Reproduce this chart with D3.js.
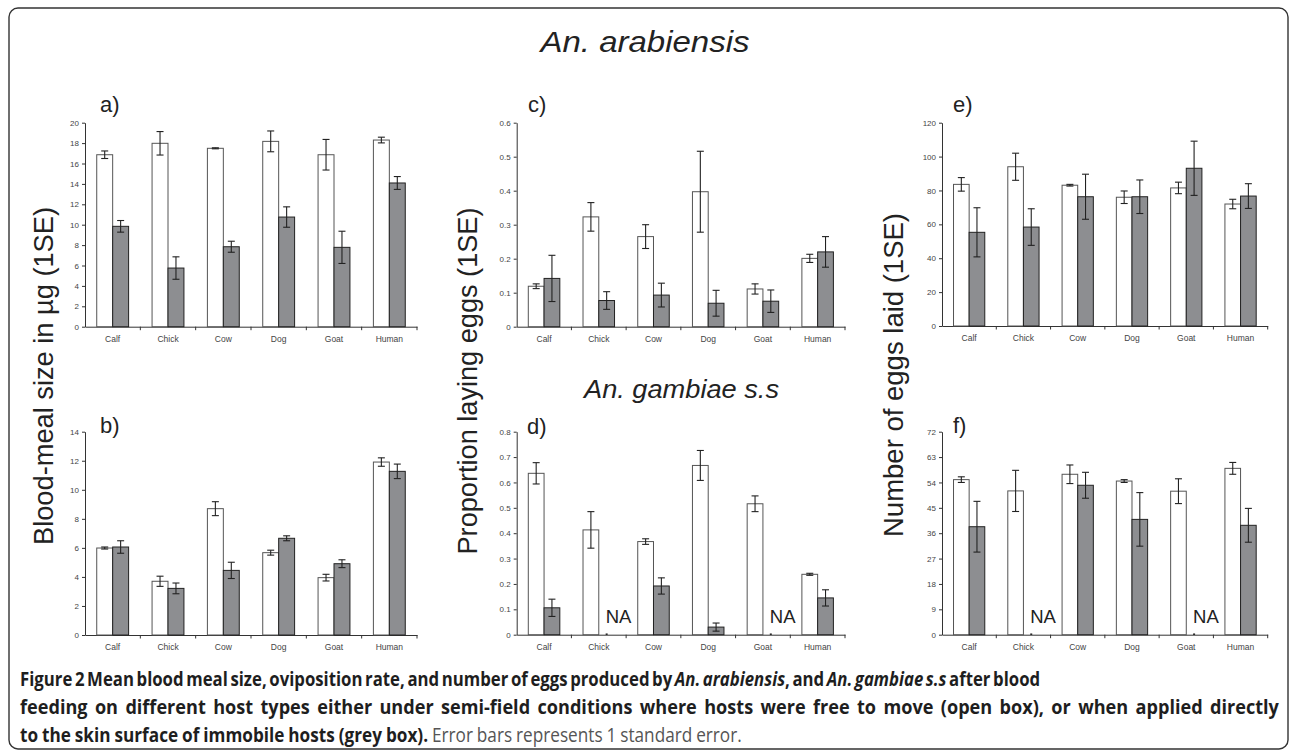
<!DOCTYPE html>
<html><head><meta charset="utf-8">
<script src="https://cdn.jsdelivr.net/npm/d3@7"></script>
<style>body{margin:0;background:#fff}svg{display:block}</style>
</head><body>
<svg id="c" width="1290" height="752"></svg>
<script>
// ---------- DATA ----------
const categories = ["Calf","Chick","Cow","Dog","Goat","Human"];
// a) An. arabiensis, blood-meal size (µg)
const aOpen   = [16.86, 17.98, 17.49, 18.17, 16.86, 18.3];
const aOpenSE = [0.37, 1.15, 0.05, 1.02, 1.5, 0.28];
const aGrey   = [9.84, 5.75, 7.84, 10.75, 7.78, 14.09];
const aGreySE = [0.57, 1.1, 0.54, 1.0, 1.58, 0.63];
// b) An. gambiae s.s, blood-meal size
const bOpen   = [5.99, 3.7, 8.7, 5.67, 3.95, 11.91];
const bOpenSE = [0.07, 0.35, 0.48, 0.17, 0.23, 0.29];
const bGrey   = [6.06, 3.21, 4.45, 6.66, 4.91, 11.27];
const bGreySE = [0.43, 0.37, 0.56, 0.17, 0.27, 0.5];
// c) An. arabiensis, proportion laying eggs
const cOpen   = [0.119, 0.323, 0.265, 0.397, 0.111, 0.201];
const cOpenSE = [0.007, 0.042, 0.035, 0.119, 0.015, 0.012];
const cGrey   = [0.142, 0.077, 0.093, 0.069, 0.075, 0.22];
const cGreySE = [0.068, 0.026, 0.035, 0.038, 0.033, 0.045];
// d) An. gambiae s.s, proportion laying eggs (null = NA)
const dOpen   = [0.636, 0.413, 0.367, 0.667, 0.516, 0.238];
const dOpenSE = [0.042, 0.072, 0.011, 0.059, 0.031, 0.004];
const dGrey   = [0.106, null, 0.192, 0.03, null, 0.145];
const dGreySE = [0.034, null, 0.032, 0.016, null, 0.032];
// e) An. arabiensis, number of eggs laid
const eOpen   = [83.6, 94.0, 83.1, 76.0, 81.5, 72.0];
const eOpenSE = [4.0, 8.0, 0.5, 3.7, 3.4, 2.8];
const eGrey   = [55.3, 58.4, 76.3, 76.3, 93.1, 76.7];
const eGreySE = [14.5, 10.8, 13.3, 9.9, 16.0, 7.3];
// f) An. gambiae s.s, number of eggs laid (null = NA)
const fOpen   = [55.0, 51.0, 56.9, 54.5, 50.9, 59.0];
const fOpenSE = [1.0, 7.3, 3.3, 0.5, 4.4, 2.1];
const fGrey   = [38.3, null, 53.0, 40.9, null, 38.8];
const fGreySE = [9.0, null, 4.6, 9.5, null, 6.0];

const yTicksA = [0,2,4,6,8,10,12,14,16,18,20];
const yTicksB = [0,2,4,6,8,10,12,14];
const yTicksC = [0,0.1,0.2,0.3,0.4,0.5,0.6];
const yTicksD = [0,0.1,0.2,0.3,0.4,0.5,0.6,0.7,0.8];
const yTicksE = [0,20,40,60,80,100,120];
const yTicksF = [0,9,18,27,36,45,54,63,72];

const panelLetters = ["a)","b)","c)","d)","e)","f)"];
const yTitles = ["Blood-meal size in µg (1SE)","Proportion laying eggs (1SE)","Number of eggs laid (1SE)"];
const speciesTitles = ["An. arabiensis","An. gambiae s.s"];

// ---------- LAYOUT ----------
const svg = d3.select("#c");
const FONT = "'Liberation Sans', Arial, Helvetica, sans-serif";
const GREY = "#8d8e91";

svg.append("rect").attr("x",9).attr("y",8).attr("width",1279).attr("height",741)
  .attr("rx",9).attr("fill","none").attr("stroke","#333").attr("stroke-width",1.4);

const panels = [
  {open:aOpen, openSE:aOpenSE, grey:aGrey, greySE:aGreySE, ticks:yTicksA, fmt:d3.format("d"), x0:85, x1:417, yTop:122.7, yBot:326.7, lx:100, ly:112},
  {open:bOpen, openSE:bOpenSE, grey:bGrey, greySE:bGreySE, ticks:yTicksB, fmt:d3.format("d"), x0:85, x1:417, yTop:431.7, yBot:635, lx:100, ly:433},
  {open:cOpen, openSE:cOpenSE, grey:cGrey, greySE:cGreySE, ticks:yTicksC, fmt:d=>d===0?"0":d3.format(".1f")(d), x0:516.7, x1:845, yTop:122.7, yBot:326.7, lx:528, ly:112},
  {open:dOpen, openSE:dOpenSE, grey:dGrey, greySE:dGreySE, ticks:yTicksD, fmt:d=>d===0?"0":d3.format(".1f")(d), x0:516.7, x1:845, yTop:431.7, yBot:634.7, lx:527, ly:434},
  {open:eOpen, openSE:eOpenSE, grey:eGrey, greySE:eGreySE, ticks:yTicksE, fmt:d3.format("d"), x0:942, x1:1267.7, yTop:122.7, yBot:326, lx:953, ly:112},
  {open:fOpen, openSE:fOpenSE, grey:fGrey, greySE:fGreySE, ticks:yTicksF, fmt:d3.format("d"), x0:942, x1:1267.7, yTop:431.7, yBot:634.7, lx:953, ly:433}
];

panels.forEach((p,pi)=>{
  const g = svg.append("g");
  const x = d3.scaleBand().domain(categories).range([p.x0,p.x1]).paddingInner(0).paddingOuter(0);
  const bw = x.bandwidth();
  const xs = d3.scaleBand().domain(["open","grey"]).range([bw*0.212, bw*0.788]).padding(0);
  const y = d3.scaleLinear().domain([0, p.ticks[p.ticks.length-1]]).range([p.yBot,p.yTop]);

  const ya = g.append("g").attr("transform",`translate(${p.x0},0)`)
    .call(d3.axisLeft(y).tickValues(p.ticks).tickFormat(p.fmt).tickSize(3).tickSizeOuter(0).tickPadding(3));
  ya.select(".domain").attr("stroke","#333").attr("stroke-width",1);
  ya.selectAll(".tick line").attr("stroke","#333");
  ya.selectAll("text").attr("font-family",FONT).attr("font-size",8).attr("fill","#444");

  const xa = g.append("g").attr("transform",`translate(0,${p.yBot})`)
    .call(d3.axisBottom(x).tickSize(0).tickPadding(9).tickSizeOuter(0));
  xa.select(".domain").attr("stroke","#333").attr("stroke-width",1);
  xa.selectAll("text").attr("font-family",FONT).attr("font-size",8.5).attr("fill","#444");
  const bounds = categories.map(c=>x(c)).concat([p.x1]).slice(1);
  g.selectAll(".bt").data(bounds).join("line")
    .attr("x1",d=>d).attr("x2",d=>d).attr("y1",p.yBot).attr("y2",p.yBot+3.5)
    .attr("stroke","#333");

  const series = [
    {key:"open", vals:p.open, se:p.openSE, fill:"#fff", stroke:"#555"},
    {key:"grey", vals:p.grey, se:p.greySE, fill:GREY, stroke:"#222"}
  ];
  series.forEach(s=>{
    categories.forEach((c,i)=>{
      const v = s.vals[i];
      const bx = x(c)+xs(s.key);
      if (v===null){
        g.append("line").attr("x1",bx+xs.bandwidth()/2-1).attr("x2",bx+xs.bandwidth()/2+1)
          .attr("y1",p.yBot-0.5).attr("y2",p.yBot-0.5).attr("stroke","#222").attr("stroke-width",1.5);
        g.append("text").attr("x",bx+xs.bandwidth()/2-1).attr("y",p.yBot-11.5)
          .attr("font-family",FONT).attr("font-size",18.5).attr("fill","#222").text("NA");
        return;
      }
      g.append("rect").attr("x",bx).attr("y",y(v)).attr("width",xs.bandwidth()).attr("height",p.yBot-y(v))
        .attr("fill",s.fill).attr("stroke",s.stroke).attr("stroke-width",1);
      const se = s.se[i];
      const cx = bx+xs.bandwidth()/2;
      const eg = g.append("g").attr("stroke","#222").attr("stroke-width",1.1);
      eg.append("line").attr("x1",cx).attr("x2",cx).attr("y1",y(v+se)).attr("y2",y(v-se));
      eg.append("line").attr("x1",cx-3.5).attr("x2",cx+3.5).attr("y1",y(v+se)).attr("y2",y(v+se));
      eg.append("line").attr("x1",cx-3.5).attr("x2",cx+3.5).attr("y1",y(v-se)).attr("y2",y(v-se));
    });
  });

  svg.append("text").attr("x",p.lx).attr("y",p.ly).attr("font-family",FONT)
    .attr("font-size",22).attr("fill","#222").text(panelLetters[pi]);
});

const yTitlePos = [{x:53, y:376, len:338},{x:477, y:381, len:347},{x:903, y:375, len:324}];
yTitles.forEach((t,i)=>{
  const pos = yTitlePos[i];
  svg.append("text").attr("transform",`translate(${pos.x},${pos.y}) rotate(-90)`)
    .attr("text-anchor","middle").attr("font-family",FONT).attr("font-size",27.5)
    .attr("fill","#222").attr("textLength",pos.len).attr("lengthAdjust","spacingAndGlyphs").text(t);
});

svg.append("text").attr("x",645).attr("y",52).attr("text-anchor","middle")
  .attr("font-family",FONT).attr("font-style","italic").attr("font-size",29).attr("fill","#222")
  .attr("textLength",209).attr("lengthAdjust","spacingAndGlyphs").text(speciesTitles[0]);
svg.append("text").attr("x",681.5).attr("y",398).attr("text-anchor","middle")
  .attr("font-family",FONT).attr("font-style","italic").attr("font-size",26).attr("fill","#222")
  .attr("textLength",195).attr("lengthAdjust","spacingAndGlyphs").text(speciesTitles[1]);

// ---------- CAPTION ----------
const CAPFONT = "'Open Sans','Noto Sans',sans-serif";
const captionLines = [
  {y:686, w:1021, parts:[
    {t:"Figure 2 Mean blood meal size, oviposition rate, and number of eggs produced by ", b:1},
    {t:"An. arabiensis", b:1, i:1},
    {t:", and ", b:1},
    {t:"An. gambiae s.s", b:1, i:1},
    {t:" after blood", b:1}]},
  {y:714, w:1260, parts:[
    {t:"feeding on different host types either under semi-field conditions where hosts were free to move (open box), or when applied directly", b:1}]},
  {y:742, w:722, parts:[
    {t:"to the skin surface of immobile hosts (grey box).", b:1},
    {t:" Error bars represents 1 standard error.", c:"#555"}]}
];
const caps = captionLines.map(L=>{
  const tx = svg.append("text").attr("font-family",CAPFONT).attr("font-size",19.5)
    .attr("fill","#1e1e1e").style("white-space","pre");
  L.parts.forEach(pt=>{
    tx.append("tspan").attr("font-weight",pt.b?"bold":"normal")
      .attr("font-style",pt.i?"italic":"normal").attr("fill",pt.c||"#1e1e1e").text(pt.t);
  });
  const len = tx.node().getComputedTextLength();
  const spaces = L.parts.map(p=>p.t).join("").split(" ").length-1;
  return {tx, L, len, spaces};
});
const sc = d3.mean(caps, d=>d.L.w/d.len);
caps.forEach(d=>{
  const r = d.L.w/d.len;
  const s = Math.sqrt(r*sc);
  const ws = (d.L.w/s - d.len)/d.spaces;
  d.tx.attr("word-spacing", ws).attr("transform",`translate(20,${d.L.y}) scale(${s},1)`);
});
</script>
</body></html>
